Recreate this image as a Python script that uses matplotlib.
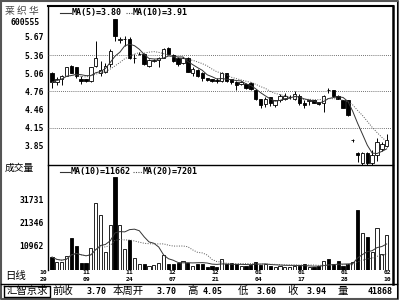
import numpy as np
import pandas as pd
import matplotlib
matplotlib.use("Agg")
import matplotlib.pyplot as plt
from matplotlib.transforms import blended_transform_factory

plt.rcParams['font.family'] = ['Noto Sans CJK SC', 'DejaVu Sans']
MONO = 'DejaVu Sans Mono'

name = "莱织华"
code = "600555"

# daily candles
opens = [5.07, 4.91, 4.96, 5.02, 5.19, 5.16, 4.97, 4.96, 4.93, 5.19,
         5.06, 5.09, 5.22, 5.97, 5.62, 5.63, 5.64, 5.31, 5.38, 5.39,
         5.19, 5.27, 5.29, 5.32, 5.49, 5.36, 5.31, 5.24, 5.32, 5.07,
         5.12, 5.07, 4.98, 4.96, 4.95, 4.94, 5.06, 4.96, 4.91, 4.89,
         4.89, 4.90, 4.79, 4.63, 4.55, 4.66, 4.53, 4.61, 4.64, 4.66,
         4.64, 4.69, 4.56, 4.60, 4.61, 4.58, 4.56, 4.79, 4.78, 4.69,
         4.61, 4.61, 3.95, 3.73, 3.57, 3.73, 3.57, 3.70, 3.79, 3.85]
highs = [5.08, 5.00, 5.03, 5.17, 5.20, 5.17, 5.02, 4.97, 5.17, 5.60,
         5.27, 5.24, 5.47, 5.97, 5.67, 5.69, 5.66, 5.39, 5.41, 5.40,
         5.30, 5.30, 5.34, 5.49, 5.50, 5.38, 5.33, 5.34, 5.33, 5.16,
         5.13, 5.08, 4.99, 4.97, 4.98, 5.08, 5.07, 4.97, 4.93, 4.93,
         4.90, 4.91, 4.80, 4.64, 4.66, 4.67, 4.62, 4.71, 4.73, 4.70,
         4.76, 4.72, 4.61, 4.62, 4.62, 4.59, 4.70, 4.81, 4.79, 4.70,
         4.62, 4.62, 3.97, 3.75, 3.74, 3.75, 3.78, 3.98, 3.92, 4.05]
lows = [4.81, 4.86, 4.86, 5.01, 5.06, 4.99, 4.89, 4.91, 4.92, 5.16,
        5.02, 5.06, 5.16, 5.60, 5.57, 5.52, 5.30, 5.24, 5.36, 5.20,
        5.16, 5.25, 5.16, 5.31, 5.37, 5.25, 5.19, 5.22, 5.08, 5.01,
        5.00, 4.94, 4.93, 4.92, 4.90, 4.91, 4.92, 4.89, 4.79, 4.87,
        4.80, 4.79, 4.62, 4.49, 4.50, 4.52, 4.50, 4.59, 4.61, 4.63,
        4.62, 4.54, 4.49, 4.53, 4.56, 4.54, 4.41, 4.73, 4.68, 4.63,
        4.48, 4.35, 3.92, 3.58, 3.50, 3.50, 3.50, 3.60, 3.76, 3.83]
closes = [4.91, 4.97, 5.01, 5.16, 5.07, 5.01, 4.94, 4.93, 5.16, 5.31,
          5.11, 5.19, 5.44, 5.69, 5.64, 5.64, 5.32, 5.32, 5.39, 5.22,
          5.29, 5.28, 5.32, 5.47, 5.39, 5.27, 5.22, 5.32, 5.09, 5.13,
          5.02, 4.99, 4.95, 4.93, 4.94, 5.06, 4.93, 4.91, 4.86, 4.91,
          4.81, 4.80, 4.63, 4.54, 4.64, 4.56, 4.61, 4.69, 4.69, 4.67,
          4.72, 4.56, 4.53, 4.61, 4.57, 4.55, 4.69, 4.78, 4.69, 4.64,
          4.49, 4.36, 3.95, 3.70, 3.73, 3.57, 3.70, 3.91, 3.88, 3.94]
volumes = [5800, 3700, 3700, 6260, 14300, 10700, 3300, 3300, 9800, 30000,
           24600, 8200, 20100, 41800, 20100, 9400, 13400, 5400, 2700, 2700,
           1900, 2200, 3300, 6700, 2700, 2700, 3100, 4200, 3100, 1800,
           2700, 2700, 1500, 1800, 1500, 4800, 2700, 3000, 2550, 1900,
           1900, 2200, 3700, 2200, 2500, 1900, 1500, 1800, 1500, 1500,
           1900, 1800, 2500, 1500, 1200, 1900, 4000, 4900, 2500, 4200,
           2000, 2500, 3700, 26900, 16600, 14800, 8200, 18800, 7368, 15700]

price_ticks = [5.67, 5.36, 5.06, 4.76, 4.46, 4.15, 3.85]
price_grid = [5.36, 4.76, 4.15]
vol_ticks = [10962, 21346, 31731]
date_months = ["10", "11", "11", "12", "12", "01", "01", "01", "02"]
date_days = ["29", "09", "24", "07", "21", "04", "17", "28", "10"]
ma_price_text = ["MA(5)=3.80", "MA(10)=3.91"]
ma_vol_text = ["MA(10)=11662", "MA(20)=7201"]
info_labels = ["前收", "本周开", "高", "低", "收", "量"]
info_values = ["3.70", "3.70", "4.05", "3.60", "3.94", "41868"]

W, H = 400, 300
fig = plt.figure(figsize=(4, 3), dpi=100)


def box(x0, y0, x1, y1):
    return [x0 / W, 1 - y1 / H, (x1 - x0) / W, (y1 - y0) / H]


bg = fig.add_axes([0, 0, 1, 1], zorder=0)
bg.set_xlim(0, W)
bg.set_ylim(H, 0)
bg.axis('off')

ax_p = fig.add_axes(box(48, 6, 393, 165), zorder=1)
ax_v = fig.add_axes(box(48, 165, 393, 270), zorder=1)
for a in (ax_p, ax_v):
    a.patch.set_alpha(0)
    for s in a.spines.values():
        s.set_visible(False)
    a.set_xlim(-0.825, 70.3)
    a.set_xticks([])
    a.tick_params(axis='y', length=0, pad=3)

x = np.arange(len(closes))
o = np.array(opens)
c = np.array(closes)
up = c >= o
fill = np.where(up, 'white', 'black')

# price candles
ax_p.vlines(x, lows, highs, color='black', lw=0.7, zorder=2)
ax_p.bar(x, np.maximum(np.abs(c - o), 0.004), bottom=np.minimum(o, c),
         width=0.7, color=fill, edgecolor='black', lw=0.6, zorder=3)
cs = pd.Series(closes)
ax_p.plot(x, cs.rolling(5, min_periods=1).mean(), color='#333', lw=0.7, zorder=4)
ax_p.plot(x, cs.rolling(10, min_periods=1).mean(), color='#555', lw=0.7,
          ls=(0, (1, 1.5)), zorder=4)
for g in price_grid:
    ax_p.axhline(g, color='#444', lw=0.6, ls=(0, (1, 1.5)), zorder=1)
ax_p.set_ylim(3.531, 6.184)
ax_p.set_yticks(price_ticks)
ax_p.set_yticklabels([f"{t:.2f}" for t in price_ticks], family=MONO,
                     weight='bold', fontsize=5.8)

# volume bars
ax_v.bar(x, volumes, width=0.65, color=fill, edgecolor='black', lw=0.6, zorder=2)
vs = pd.Series(volumes)
ax_v.plot(x, vs.rolling(10, min_periods=1).mean(), color='#333', lw=0.7, zorder=3)
ax_v.plot(x, vs.rolling(20, min_periods=1).mean(), color='#555', lw=0.7,
          ls=(0, (1, 1.5)), zorder=3)
ax_v.set_ylim(0, 47000)
ax_v.set_yticks(vol_ticks)
ax_v.set_yticklabels([str(t) for t in vol_ticks], family=MONO,
                     weight='bold', fontsize=5.8)

trans = blended_transform_factory(ax_v.transData, bg.transData)
positions = np.linspace(-1.75, 69.2, len(date_days))
for pos, mo, dd in zip(positions, date_months, date_days):
    ax_v.text(pos, 273, mo, transform=trans, ha='center', va='center',
              family=MONO, weight='bold', fontsize=4.6, clip_on=False)
    ax_v.text(pos, 279.5, dd, transform=trans, ha='center', va='center',
              family=MONO, weight='bold', fontsize=4.6, clip_on=False)

# frames
k = dict(color='black', lw=1.0)
bg.plot([1, 398, 398, 1, 1], [1, 1, 298.5, 298.5, 1], color='#555', lw=1.5)
bg.plot([48, 48], [6, 270], **k)
bg.plot([48, 393], [6, 6], color='black', lw=1.5)
bg.plot([393, 393], [6, 284], color='black', lw=1.8)
bg.plot([396.5, 396.5], [2, 298], color='black', lw=0.7)
bg.plot([48, 393], [165, 165], **k)
bg.plot([1, 397], [284, 284], **k)
bg.plot([3.5, 50, 50, 3.5, 3.5], [285.5, 285.5, 297, 297, 285.5], **k)

# legends
bg.plot([60, 71], [13, 13], color='#333', lw=0.8)
bg.text(72, 13, ma_price_text[0], family=MONO, weight='bold', fontsize=6,
        va='center')
bg.plot([126, 133], [13, 13], color='#555', lw=0.8, ls=(0, (1, 1.2)))
bg.text(133, 13, ma_price_text[1], family=MONO, weight='bold', fontsize=6,
        va='center')
bg.plot([60, 70], [171.5, 171.5], color='#333', lw=0.8)
bg.text(71, 171.5, ma_vol_text[0], family=MONO, weight='bold', fontsize=6,
        va='center')
bg.plot([133, 143], [171.5, 171.5], color='#555', lw=0.8, ls=(0, (1, 1.2)))
bg.text(143, 171.5, ma_vol_text[1], family=MONO, weight='bold', fontsize=6,
        va='center')

# left side captions
for i, ch in enumerate(name):
    bg.text(9.5 + 12 * i, 11, ch, ha='center', va='center', fontsize=7,
            color='#444')
bg.text(40, 22.5, code, ha='right', va='center', family=MONO, weight='bold',
        fontsize=5.8)
bg.text(5, 168, "成交量", ha='left', va='center', fontsize=7)
bg.text(5, 276, "日线", ha='left', va='center', fontsize=7.5)

# bottom info bar
bg.text(27, 291, "汇智京求", ha='center', va='center', fontsize=7.5)
lab_x = [52, 113, 187, 238, 287, 337]
val_x = [107, 177, 223, 277, 327, 393]
for lx, vx, lab, val in zip(lab_x, val_x, info_labels, info_values):
    bg.text(lx, 291, lab, ha='left', va='center', fontsize=7.5)
    bg.text(vx, 291, val, ha='right', va='center', family=MONO,
            weight='bold', fontsize=6)

fig.savefig("out.png", dpi=100, facecolor='white')
